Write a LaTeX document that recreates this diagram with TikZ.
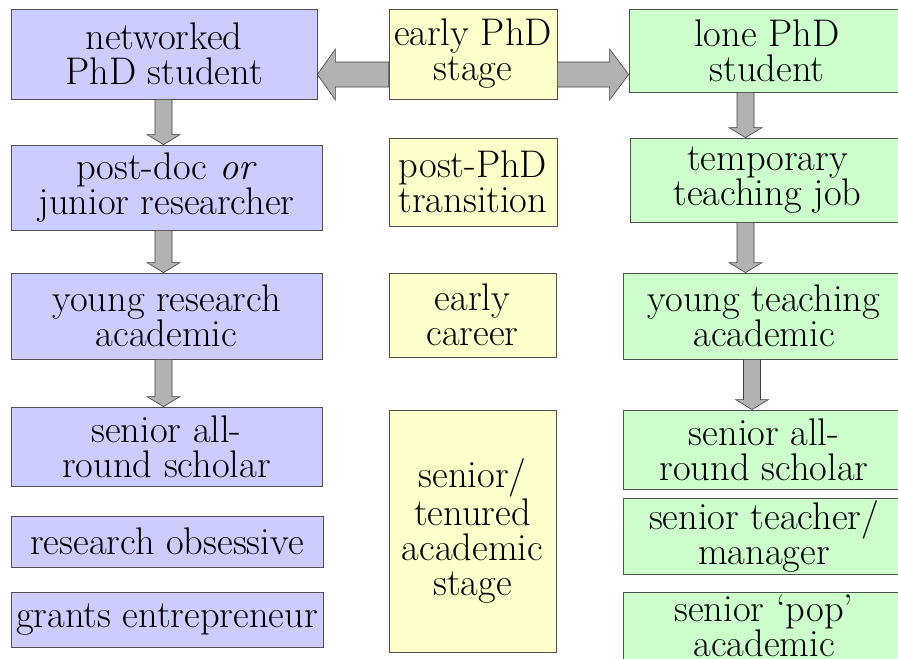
\documentclass[tikz,border=0pt]{standalone}
\usepackage{xcolor}
\usepackage{tikz}
\usetikzlibrary{calc}
\definecolor{netblue}{HTML}{CCCCFF}
\definecolor{stageyel}{HTML}{FFFFCC}
\definecolor{lonegreen}{HTML}{CCFFCC}
\definecolor{arrgray}{HTML}{B2B2B2}
\definecolor{edge}{HTML}{505050}
\tikzset{
  box/.style={draw=edge, line width=0.8pt, align=center, inner sep=2pt,
    font=\fontsize{38.5}{35}\selectfont},
  net/.style={box, fill=netblue},
  stage/.style={box, fill=stageyel},
  lone/.style={box, fill=lonegreen},
  drop/.style={execute at begin node={\rule{0pt}{#1pt}}},
  blk/.style={draw=edge!80!black, fill=arrgray, line width=0.6pt, line join=miter},
}
\begin{document}
\begin{tikzpicture}[x=1pt, y=-1pt]
  \useasboundingbox (0,0) rectangle (898,659);
  \clip (0,0) rectangle (898,659);
  \coordinate (lx) at (163.5,0);
  \coordinate (rx) at (745.5,0);
  \coordinate (rx3) at (752,0);
  \coordinate (ay) at (0,74.5);

  % networked route
  \node[net, drop=38, minimum width=306, minimum height=90] (nps) at (164,54) {networked\\PhD student};
  \node[net, drop=34, minimum width=311, minimum height=85] (pdoc) at (166.5,187.5) {post-doc \emph{or}\\junior researcher};
  \node[net, minimum width=311, minimum height=86] (yra) at (166.5,316) {young research\\academic};
  \node[net, minimum width=311, minimum height=79] (lsch) at (166.5,446.5) {senior all-\\round scholar};
  \node[net, minimum width=312, minimum height=51] (robs) at (167,541.5) {research obsessive};
  \node[net, minimum width=312, minimum height=55] (gent) at (167,619.5) {grants entrepreneur};

  % stages
  \node[stage, drop=42, minimum width=168, minimum height=90] (eps) at (473,54) {early PhD\\stage};
  \node[stage, minimum width=168, minimum height=88] (ppt) at (473,182) {post-PhD\\transition};
  \node[stage, minimum width=167, minimum height=84] (ecar) at (472.5,315) {early\\career};
  \node[stage, minimum width=167, minimum height=242] (sten) at (472.5,531) {senior/\\tenured\\academic\\stage};

  % lone route
  \node[lone, minimum width=276, minimum height=83] (lps) at (767,50.5) {lone PhD\\student};
  \node[lone, minimum width=275, minimum height=84] (ttj) at (767.5,180) {temporary\\teaching job};
  \node[lone, minimum width=282, minimum height=86] (yta) at (764,316) {young teaching\\academic};
  \node[lone, minimum width=282, minimum height=79] (rsch) at (764,449.5) {senior all-\\round scholar};
  \node[lone, minimum width=282, minimum height=71] (stm) at (764,536.5) {senior teacher/\\manager};
  \node[lone, minimum width=282, minimum height=68] (spa) at (764,626) {senior `pop'\\academic};

  % block arrows
  \draw[blk] ($(eps.west |- ay)+(0,-12.5)$) -- ($(nps.east |- ay)+(18,-12.5)$) -- ++(0,-13)
    -- (nps.east |- ay) -- ++(18,25.5) -- ++(0,-13) -- ($(eps.west |- ay)+(0,12.5)$) -- cycle;
  \draw[blk] ($(eps.east |- ay)+(0,-12.5)$) -- ($(lps.west |- ay)+(-19,-12.5)$) -- ++(0,-13)
    -- (lps.west |- ay) -- ++(-19,25.5) -- ++(0,-13) -- ($(eps.east |- ay)+(0,12.5)$) -- cycle;
  \foreach \a/\b/\x in {nps/pdoc/lx, pdoc/yra/lx, yra/lsch/lx, lps/ttj/rx, ttj/yta/rx, yta/rsch/rx3}
    \draw[blk] ($(\a.south -| \x)+(-8.5,0)$) -- ($(\b.north -| \x)+(-8.5,-10)$) -- ++(-8,0)
      -- (\b.north -| \x) -- ++(16.5,-10) -- ++(-8,0) -- ($(\a.south -| \x)+(8.5,0)$) -- cycle;
\end{tikzpicture}
\end{document}
